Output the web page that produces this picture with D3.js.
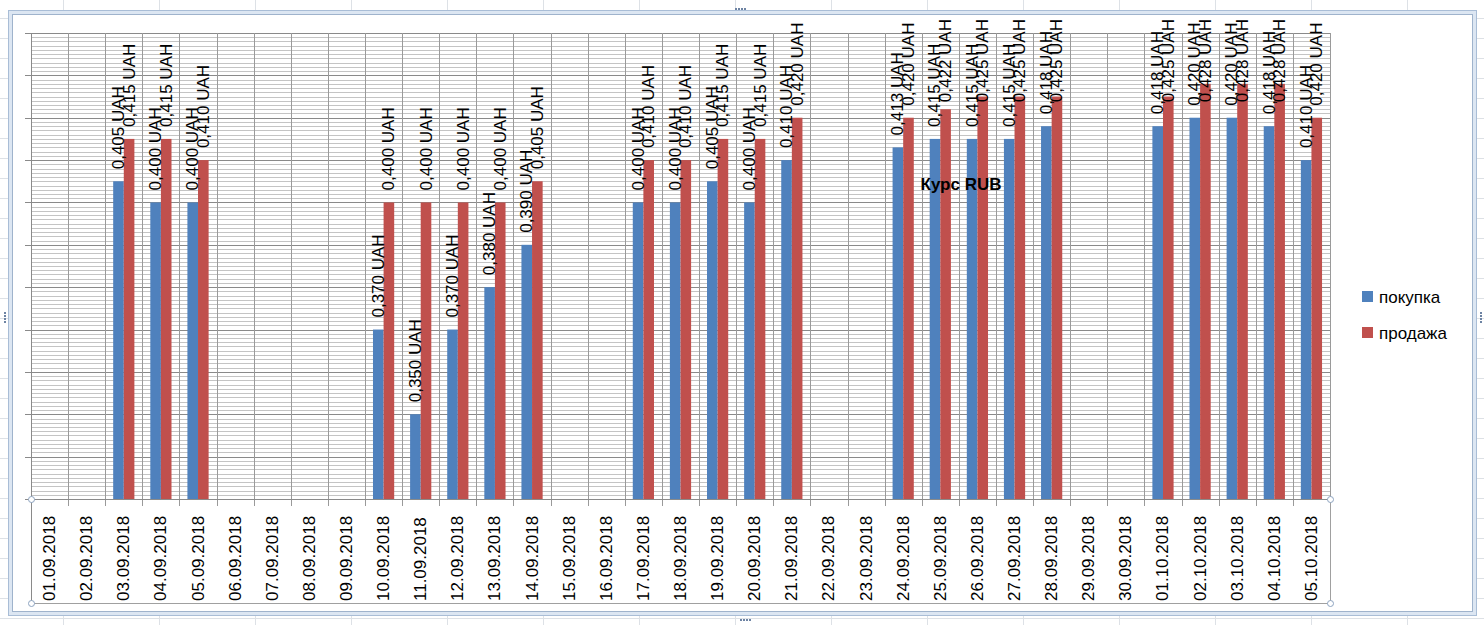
<!DOCTYPE html>
<html>
<head>
<meta charset="utf-8">
<script src="https://cdn.jsdelivr.net/npm/d3@7"></script>
<style>
  body { margin: 0; background: #ffffff; }
  text { font-family: "Liberation Sans", Arial, sans-serif; }
</style>
</head>
<body>
<svg id="chart"></svg>
<script>
// Chart data
var dates = ["01.09.2018","02.09.2018","03.09.2018","04.09.2018","05.09.2018","06.09.2018","07.09.2018",
  "08.09.2018","09.09.2018","10.09.2018","11.09.2018","12.09.2018","13.09.2018","14.09.2018","15.09.2018",
  "16.09.2018","17.09.2018","18.09.2018","19.09.2018","20.09.2018","21.09.2018","22.09.2018","23.09.2018",
  "24.09.2018","25.09.2018","26.09.2018","27.09.2018","28.09.2018","29.09.2018","30.09.2018","01.10.2018",
  "02.10.2018","03.10.2018","04.10.2018","05.10.2018"];
var buy = [null,null,0.405,0.400,0.400,null,null,null,null,0.370,0.350,0.370,0.380,0.390,null,null,
  0.400,0.400,0.405,0.400,0.410,null,null,0.413,0.415,0.415,0.415,0.418,null,null,0.418,0.420,0.420,0.418,0.410];
var sell = [null,null,0.415,0.415,0.410,null,null,null,null,0.400,0.400,0.400,0.400,0.405,null,null,
  0.410,0.410,0.415,0.415,0.420,null,null,0.420,0.422,0.425,0.425,0.425,null,null,0.425,0.428,0.428,0.428,0.420];
var seriesNames = ["покупка", "продажа"];
var yDomain = [0.33, 0.44];
var title = "Курс RUB";

var colors = ["#4F81BD", "#C0504D"];

// SVG size params
var W = 1484, H = 625;
var plot = {left: 31, right: 1330, top: 33, bottom: 499, axisBox: 603};
var labelTop = 19;   // data labels are kept below this line

var svg = d3.select("#chart")
    .attr("width", W)
    .attr("height", H);

// Sheet grid behind the chart
var sheet = svg.append("g");
sheet.selectAll(".col")
  .data(d3.range(63, W, 96))
  .enter().append("line")
    .attr("x1", d => d + 0.5).attr("x2", d => d + 0.5)
    .attr("y1", 0).attr("y2", H)
    .attr("stroke", "#dde1e6");
sheet.selectAll(".row")
  .data(d3.range(-2, H, 20))
  .enter().append("line")
    .attr("x1", 0).attr("x2", W)
    .attr("y1", d => d + 0.5).attr("y2", d => d + 0.5)
    .attr("stroke", "#dde1e6");

// Chart frame (selected chart border)
svg.append("rect")
    .attr("x", 8.5).attr("y", 10.5)
    .attr("width", 1468).attr("height", 605)
    .attr("fill", "#dce6f2")
    .attr("stroke", "#a9bdd6");
svg.append("rect")
    .attr("x", 12.5).attr("y", 14.5)
    .attr("width", 1460).attr("height", 597)
    .attr("fill", "#ffffff")
    .attr("stroke", "#9fb3cc");

// Frame handles
var handles = [[735, 8, "h"], [740, 619, "h"], [4, 312, "v"], [1480, 312, "v"]];
handles.forEach(function(h) {
  for (var i = 0; i < 4; i++) {
    svg.append("rect")
      .attr("x", h[2] == "h" ? h[0] + i * 3 : h[0])
      .attr("y", h[2] == "h" ? h[1] : h[1] + i * 3)
      .attr("width", 2).attr("height", 2)
      .attr("fill", "#6d83a3");
  }
});

// Scales
var x = d3.scaleBand()
    .domain(dates)
    .range([plot.left, plot.right])
    .paddingInner(0).paddingOuter(0);

var y = d3.scaleLinear()
    .domain(yDomain)
    .range([plot.bottom, plot.top]);

var barW = x.bandwidth() / 3.5;

// Minor gridlines
var minor = d3.range(0, 111).map(i => yDomain[0] + i * 0.001);
svg.append("g")
  .selectAll("line")
  .data(minor)
  .enter().append("line")
    .attr("x1", plot.left).attr("x2", plot.right)
    .attr("y1", d => Math.round(y(d)) + 0.5)
    .attr("y2", d => Math.round(y(d)) + 0.5)
    .attr("stroke", "#c4c4c4");

// Major gridlines
var major = d3.range(0, 12).map(i => yDomain[0] + i * 0.01);
svg.append("g")
  .selectAll("line")
  .data(major)
  .enter().append("line")
    .attr("x1", plot.left - 6).attr("x2", plot.right)
    .attr("y1", d => Math.round(y(d)) + 0.5)
    .attr("y2", d => Math.round(y(d)) + 0.5)
    .attr("stroke", "#8a8a8a");

// Vertical gridlines at category boundaries
var bounds = dates.map(d => x(d)).concat(plot.right);
svg.append("g")
  .selectAll("line")
  .data(bounds)
  .enter().append("line")
    .attr("x1", d => Math.round(d) + 0.5).attr("x2", d => Math.round(d) + 0.5)
    .attr("y1", plot.top).attr("y2", plot.bottom + 7)
    .attr("stroke", "#9a9a9a");

// Bars
var series = [buy, sell];
series.forEach(function(vals, s) {
  var data = dates.map((d, i) => ({date: d, v: vals[i]})).filter(d => d.v != null);
  svg.append("g")
    .selectAll("rect")
    .data(data)
    .enter().append("rect")
      .attr("x", d => x(d.date) + x.bandwidth() / 2 - barW + s * barW)
      .attr("y", d => y(d.v))
      .attr("width", barW)
      .attr("height", d => plot.bottom - y(d.v))
      .attr("fill", colors[s]);
});

// Axis lines and date label box
svg.append("line")
    .attr("x1", plot.left + 0.5).attr("x2", plot.left + 0.5)
    .attr("y1", plot.top).attr("y2", plot.axisBox)
    .attr("stroke", "#8a8a8a");
svg.append("line")
    .attr("x1", plot.left).attr("x2", plot.right)
    .attr("y1", plot.bottom + 0.5).attr("y2", plot.bottom + 0.5)
    .attr("stroke", "#8a8a8a");
svg.append("line")
    .attr("x1", plot.left).attr("x2", plot.right)
    .attr("y1", plot.axisBox + 0.5).attr("y2", plot.axisBox + 0.5)
    .attr("stroke", "#a0a0a0");
svg.append("line")
    .attr("x1", plot.right + 0.5).attr("x2", plot.right + 0.5)
    .attr("y1", plot.bottom).attr("y2", plot.axisBox)
    .attr("stroke", "#a0a0a0");

// Date labels
svg.append("g")
  .selectAll("text")
  .data(dates)
  .enter().append("text")
    .attr("transform", d => "translate(" + (x(d) + x.bandwidth() / 2) + "," + (plot.axisBox - 2) + ") rotate(-90)")
    .attr("dominant-baseline", "central")
    .attr("font-size", "17px")
    .attr("fill", "#000")
    .text(d => d);

// Data labels, pushed down when they would leave the chart area
series.forEach(function(vals, s) {
  var data = dates.map((d, i) => ({date: d, v: vals[i]})).filter(d => d.v != null);
  svg.append("g")
    .selectAll("text")
    .data(data)
    .enter().append("text")
      .attr("dominant-baseline", "central")
      .attr("font-size", "17px")
      .attr("fill", "#000")
      .text(d => d3.format(".3f")(d.v).replace(".", ",") + " UAH")
      .attr("transform", function(d) {
        var len = this.getComputedTextLength();
        var start = Math.max(y(d.v) - 12, labelTop + len);
        return "translate(" + (x(d.date) + x.bandwidth() / 2 - barW / 2 + s * barW) + "," + start + ") rotate(-90)";
      });
});

// Axis selection handles
[[plot.left, plot.bottom], [plot.left, plot.axisBox], [plot.right, plot.bottom], [plot.right, plot.axisBox]]
  .forEach(function(p) {
    svg.append("circle")
      .attr("cx", p[0] + 0.5).attr("cy", p[1] + 0.5)
      .attr("r", 3)
      .attr("fill", "#ffffff")
      .attr("stroke", "#8da3c0");
  });

// Title
svg.append("text")
    .attr("x", 961).attr("y", 190)
    .attr("text-anchor", "middle")
    .attr("font-size", "17px")
    .attr("font-weight", "bold")
    .text(title);

// Legend
var legend = svg.append("g");
seriesNames.forEach(function(name, i) {
  legend.append("rect")
    .attr("x", 1362).attr("y", 291 + i * 36)
    .attr("width", 11).attr("height", 11)
    .attr("fill", colors[i]);
  legend.append("text")
    .attr("x", 1379).attr("y", 297 + i * 36)
    .attr("dominant-baseline", "central")
    .attr("font-size", "17px")
    .text(name);
});
</script>
</body>
</html>
